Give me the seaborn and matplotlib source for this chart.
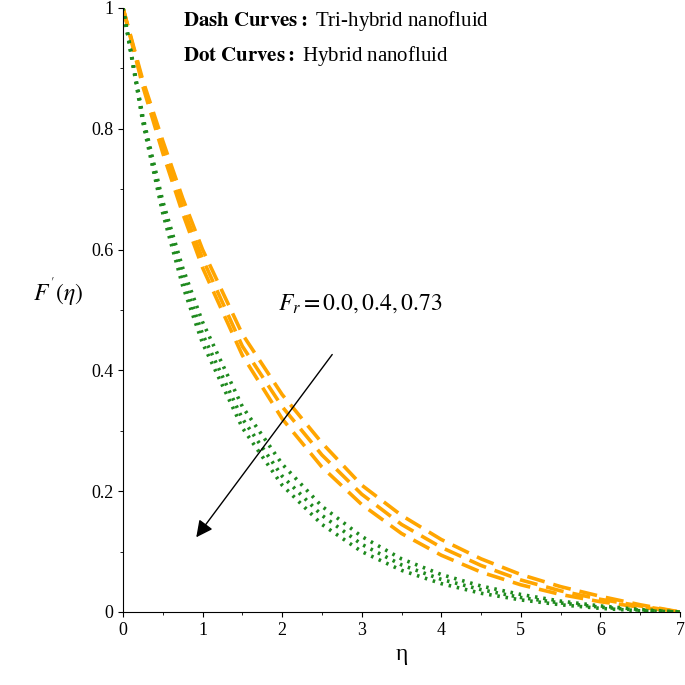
import numpy as np
import pandas as pd
import seaborn as sns
import matplotlib.pyplot as plt
from matplotlib.ticker import MultipleLocator, FixedFormatter, FixedLocator

eta = [0, 0.25, 0.5, 0.75, 1, 1.5, 2, 2.5, 3, 3.5, 4, 4.5, 5, 5.5, 6, 6.5, 7]
dash_fr0 = [1, 0.88, 0.78, 0.685, 0.60, 0.46, 0.36, 0.28, 0.21, 0.16, 0.12, 0.088, 0.062, 0.042, 0.026, 0.012, 0]
dash_fr4 = [1, 0.875, 0.77, 0.67, 0.585, 0.44, 0.34, 0.26, 0.195, 0.145, 0.107, 0.077, 0.053, 0.035, 0.021, 0.010, 0]
dash_fr73 = [1, 0.87, 0.76, 0.66, 0.57, 0.425, 0.32, 0.24, 0.178, 0.130, 0.094, 0.066, 0.045, 0.029, 0.017, 0.008, 0]
dot_fr0 = [1, 0.82, 0.68, 0.57, 0.48, 0.34, 0.245, 0.175, 0.125, 0.088, 0.062, 0.043, 0.029, 0.018, 0.010, 0.004, 0]
dot_fr4 = [1, 0.815, 0.67, 0.555, 0.46, 0.32, 0.225, 0.16, 0.112, 0.078, 0.054, 0.037, 0.024, 0.015, 0.008, 0.003, 0]
dot_fr73 = [1, 0.81, 0.66, 0.54, 0.445, 0.305, 0.21, 0.145, 0.10, 0.069, 0.047, 0.031, 0.020, 0.012, 0.006, 0.002, 0]

series = {
    ("dash", "0.0"): dash_fr0, ("dash", "0.4"): dash_fr4, ("dash", "0.73"): dash_fr73,
    ("dot", "0.0"): dot_fr0, ("dot", "0.4"): dot_fr4, ("dot", "0.73"): dot_fr73,
}

plt.rcParams["font.family"] = "Liberation Serif"
plt.rcParams["mathtext.fontset"] = "stix"
fig = plt.figure(figsize=(6.85, 6.85), dpi=100)
ax = fig.add_axes([123/685, 73/685, 557/685, 604/685])

for (kind, fr), vals in series.items():
    df = pd.DataFrame({"eta": eta, "f": vals})
    if kind == "dash":
        sns.lineplot(data=df, x="eta", y="f", ax=ax, color="#FFA500", lw=2.6,
                     linestyle=(0, (5, 2.5)))
    else:
        sns.lineplot(data=df, x="eta", y="f", ax=ax, color="#1E8A1E", lw=2.6,
                     linestyle=(0, (0.7, 1.6)))

ax.set_xlim(0, 7)
ax.set_ylim(0, 1)
for s in ["top", "right"]:
    ax.spines[s].set_visible(False)
ax.xaxis.set_major_locator(MultipleLocator(1))
ax.xaxis.set_minor_locator(MultipleLocator(0.5))
ax.yaxis.set_major_locator(FixedLocator([0, 0.2, 0.4, 0.6, 0.8, 1]))
ax.yaxis.set_major_formatter(FixedFormatter(["0", "0.2", "0.4", "0.6", "0.8", "1"]))
ax.yaxis.set_minor_locator(MultipleLocator(0.1))
ax.tick_params(labelsize=13)
ax.set_xlabel("η", fontsize=17)
ax.set_ylabel("$F^{'}(\\eta)$", fontsize=17, rotation=0, labelpad=24)
ax.text(0.75, 0.97, r"$\mathbf{Dash\ Curves:}$ Tri-hybrid nanofluid", fontsize=15)
ax.text(0.75, 0.912, r"$\mathbf{Dot\ Curves:}$ Hybrid nanofluid", fontsize=15)
ax.text(1.95, 0.5, "$F_r = 0.0, 0.4, 0.73$", fontsize=17)
ax.annotate("", xy=(0.9, 0.12), xytext=(2.65, 0.43),
            arrowprops=dict(arrowstyle="-|>", color="black", lw=1, mutation_scale=25))
fig.savefig("out.png", dpi=100)
